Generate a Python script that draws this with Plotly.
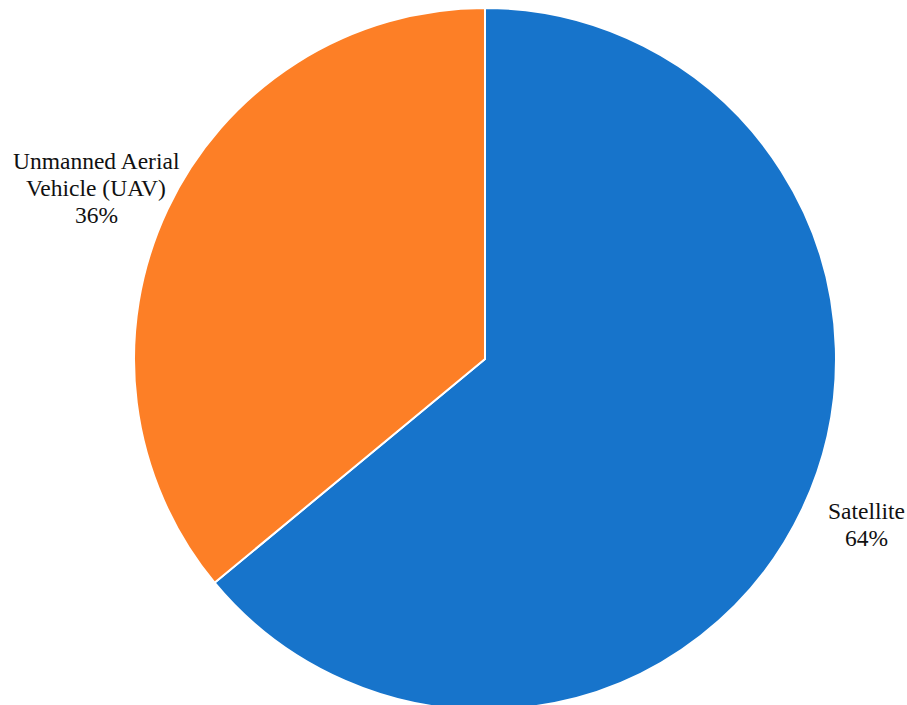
import plotly.graph_objects as go

# Share of remote-sensing platforms
platforms = ["Satellite", "Unmanned Aerial Vehicle (UAV)"]
shares = [64, 36]
slice_colors = ["#1774CB", "#FD7F26"]

# Label lines for each slice (name split over lines, then the share)
label_lines = {
    "Satellite": ["Satellite"],
    "Unmanned Aerial Vehicle (UAV)": ["Unmanned Aerial", "Vehicle (UAV)"],
}
# Pixel placement of each label block: centre x, middle y of first line
label_pos = {
    "Satellite": (866, 511),
    "Unmanned Aerial Vehicle (UAV)": (96, 161.4),
}
LINE_STEP = 27

W, H = 907, 720
SERIF = "Liberation Serif"
FONT_SIZE = 23.5

fig = go.Figure(
    go.Pie(
        labels=platforms,
        values=shares,
        sort=False,
        direction="clockwise",
        rotation=0,
        marker=dict(colors=slice_colors, line=dict(color="white", width=2)),
        textinfo="none",
        domain=dict(x=[134 / W, 836 / W], y=[10 / H, 712 / H]),
        showlegend=False,
        hoverinfo="label+percent",
    )
)

total = sum(shares)
for name, val in zip(platforms, shares):
    lines = label_lines[name] + [f"{round(100 * val / total)}%"]
    cx, cy = label_pos[name]
    for i, line in enumerate(lines):
        fig.add_annotation(
            x=cx / W,
            y=1 - (cy + i * LINE_STEP) / H,
            xref="paper",
            yref="paper",
            xanchor="center",
            yanchor="middle",
            text=line,
            showarrow=False,
            font=dict(family=SERIF, size=FONT_SIZE, color="#111111"),
        )

fig.update_layout(
    width=W,
    height=H,
    margin=dict(l=0, r=0, t=0, b=0),
    paper_bgcolor="white",
    plot_bgcolor="white",
    font=dict(family=SERIF),
)

fig.write_html(
    "out.html",
    config={"displayModeBar": False},
    post_script=(
        "document.body.style.margin='0';"
        "document.body.style.overflow='hidden';"
        "document.documentElement.style.overflow='hidden';"
    ),
)
